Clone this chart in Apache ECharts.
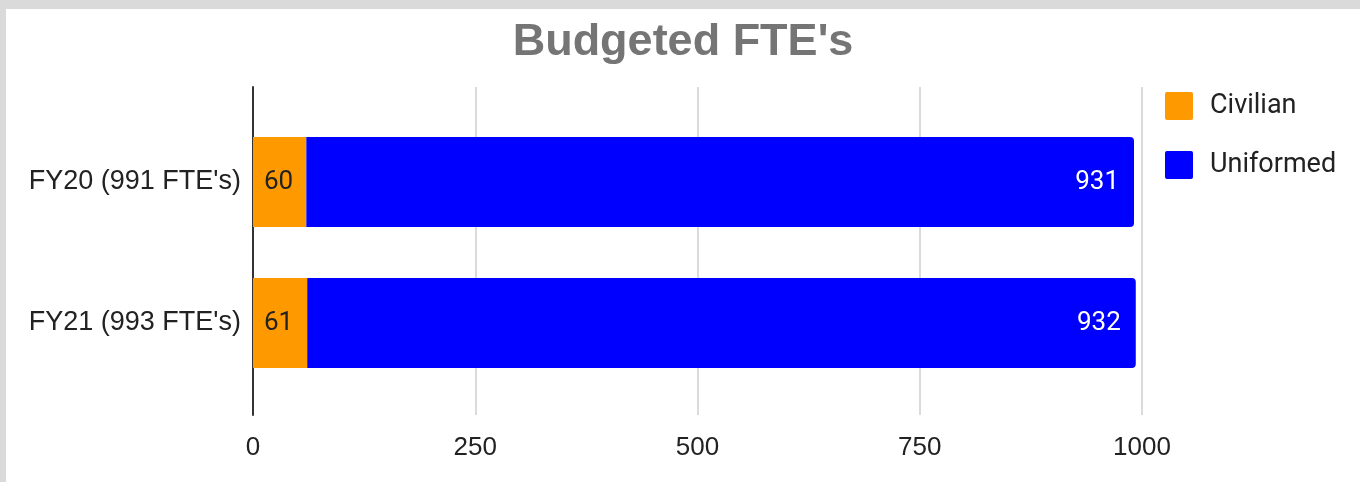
<!DOCTYPE html>
<html lang="en">

<head>
  <meta charset="UTF-8">
  <title>Budgeted FTE's</title>
  <style>
    body { margin: 0; background: #d9dad9; width: 1360px; height: 482px; overflow: hidden; position: relative; }
    #main { position: absolute; left: 6px; top: 9px; width: 1354px; height: 473px; background: #fff; }
  </style>
</head>
<script src="https://cdn.jsdelivr.net/npm/echarts@6/dist/echarts.min.js"></script>

<body>
  <div id="main"></div>

  <script>
    // data
    var categories = ["FY20 (991 FTE's)", "FY21 (993 FTE's)"]
    var civilian = [60, 61]
    var uniformed = [931, 932]
    var xMin = 0, xMax = 1000, xStep = 250

    var sans = '"Liberation Sans", Arial, sans-serif'
    var mCharts = echarts.init(document.getElementById('main'))

    var option = {
      animation: false,
      title: {
        text: "Budgeted FTE's",
        left: 'center',
        top: 6,
        textStyle: {
          fontFamily: sans,
          fontSize: 45,
          fontWeight: 'bold',
          color: '#757575'
        }
      },
      legend: {
        orient: 'vertical',
        left: 1154,
        top: 78,
        itemWidth: 28,
        itemHeight: 28,
        itemGap: 31,
        icon: 'path://M2,0H26Q28,0 28,2V26Q28,28 26,28H2Q0,28 0,26V2Q0,0 2,0Z',
        textStyle: {
          fontFamily: 'Roboto',
          fontSize: 27,
          color: '#222',
          padding: [0, 0, 0, 12]
        },
        data: ['Civilian', 'Uniformed']
      },
      // grid 0 : gridlines + axis, grid 1 : bars
      grid: [
        { left: 247, right: 218, top: 78, bottom: 67 },
        { left: 247, right: 218, top: 102.5, bottom: 88.5 }
      ],
      xAxis: [
        {
          gridIndex: 0,
          type: 'value',
          min: xMin,
          max: xMax,
          interval: xStep,
          axisLine: { show: false },
          axisTick: { show: false },
          splitLine: { lineStyle: { color: '#cfcfcf', width: 1.5 } },
          axisLabel: {
            margin: 20,
            formatter: function (v) { return String(v) },
            fontFamily: sans,
            fontSize: 26,
            color: '#222'
          }
        },
        {
          gridIndex: 1,
          type: 'value',
          min: xMin,
          max: xMax,
          show: false
        }
      ],
      yAxis: [
        {
          gridIndex: 0,
          type: 'value',
          axisLine: { show: true, lineStyle: { color: '#333', width: 2 } },
          axisTick: { show: false },
          axisLabel: { show: false },
          splitLine: { show: false }
        },
        {
          gridIndex: 1,
          type: 'category',
          inverse: true,
          data: categories,
          axisLine: { show: false },
          axisTick: { show: false },
          axisLabel: {
            margin: 12,
            fontFamily: sans,
            fontSize: 27,
            color: '#222'
          }
        }
      ],
      series: [
        {
          name: 'Civilian',
          type: 'bar',
          stack: 'total',
          xAxisIndex: 1,
          yAxisIndex: 1,
          barWidth: 90,
          data: civilian,
          itemStyle: { color: '#ff9900' },
          label: {
            show: true,
            position: 'insideLeft',
            distance: 11,
            fontFamily: 'Roboto',
            fontSize: 26,
            color: '#222'
          }
        },
        {
          name: 'Uniformed',
          type: 'bar',
          stack: 'total',
          xAxisIndex: 1,
          yAxisIndex: 1,
          barWidth: 90,
          data: uniformed,
          itemStyle: { color: '#0000ff', borderRadius: [0, 4, 4, 0] },
          label: {
            show: true,
            position: 'insideRight',
            distance: 15,
            fontFamily: 'Roboto',
            fontSize: 26,
            color: '#fff'
          }
        }
      ]
    }
    mCharts.setOption(option)
  </script>
</body>

</html>
